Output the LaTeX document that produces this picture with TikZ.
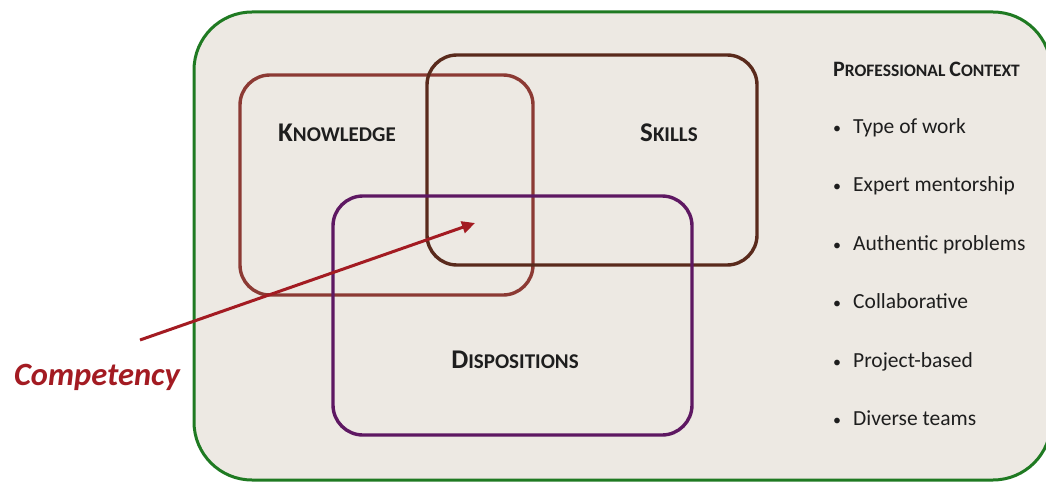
\documentclass[tikz,border=0pt]{standalone}
\usepackage{fontspec}
\setmainfont{Carlito}
\usetikzlibrary{arrows.meta}
\definecolor{bgfill}{HTML}{EDE9E3}
\definecolor{outergreen}{HTML}{1F7A22}
\definecolor{knowred}{HTML}{8C3A34}
\definecolor{skillbrown}{HTML}{5A2A1C}
\definecolor{disppurple}{HTML}{5E1862}
\definecolor{arrowred}{HTML}{A31B22}
\definecolor{textdark}{HTML}{1E1E1E}
\newcommand{\fakesc}[2]{{\fontsize{#1}{#1}\selectfont #2}}
\tikzset{
  setbox/.style={draw, line width=3.4pt, rounded corners=30pt, inner sep=0pt},
  title/.style={font=\bfseries, text=textdark, inner sep=0pt, anchor=base},
  item/.style={font=\fontsize{21.5}{22}\selectfont, text=textdark, inner sep=0pt, anchor=base west},
  bul/.style={font=\fontsize{16}{16}\selectfont, text=textdark, inner sep=0pt, anchor=base}
}
\begin{document}
\begin{tikzpicture}[x=1pt,y=-1pt]
\useasboundingbox (0,0) rectangle (1046,484);
\begin{scope}
\clip (0,0) rectangle (1046,484);
\node[draw=outergreen, fill=bgfill, line width=3pt, rounded corners=58pt, minimum width=857pt, minimum height=468pt, inner sep=0pt] (outer) at (622.5,246) {};
\end{scope}
\node[setbox, draw=knowred, minimum width=293pt, minimum height=220pt] (know) at (386.5,185) {};
\node[setbox, draw=skillbrown, minimum width=330pt, minimum height=210pt] (skill) at (592,160) {};
\node[setbox, draw=disppurple, minimum width=359pt, minimum height=239pt] (disp) at (512.5,315.5) {};
\node[title] (knowt) at (337,141) {\fakesc{27}{K}\fakesc{21}{NOWLEDGE}};
\node[title] (skillt) at (669,141) {\fakesc{27}{S}\fakesc{21}{KILLS}};
\node[title] (dispt) at (515,368) {\fakesc{27}{D}\fakesc{21}{ISPOSITIONS}};
\node[font=\bfseries\itshape\fontsize{32.5}{33}\selectfont, text=arrowred, inner sep=0pt, anchor=base] (comp) at (97,385) {Competency};
\coordinate (astart) at (140,340);
\coordinate (atip) at (475,223);
\draw[arrowred, line width=3pt, -{Triangle[length=13pt,width=12pt]}] (astart) -- (atip);
\node[title, anchor=base west] (ctx) at (833,77) {\fakesc{22}{P}\fakesc{17.5}{ROFESSIONAL\ }\fakesc{22}{C}\fakesc{17.5}{ONTEXT}};
\foreach \t [count=\i] in {Type of work, Expert mentorship, Authentic problems, Collaborative, Project-based, Diverse teams}{
  \node[bul] (b\i) at (837,133+58.5*\i-58.5) {•};
  \node[item] (t\i) at (853,133+58.5*\i-58.5) {\t};
}
\end{tikzpicture}
\end{document}
